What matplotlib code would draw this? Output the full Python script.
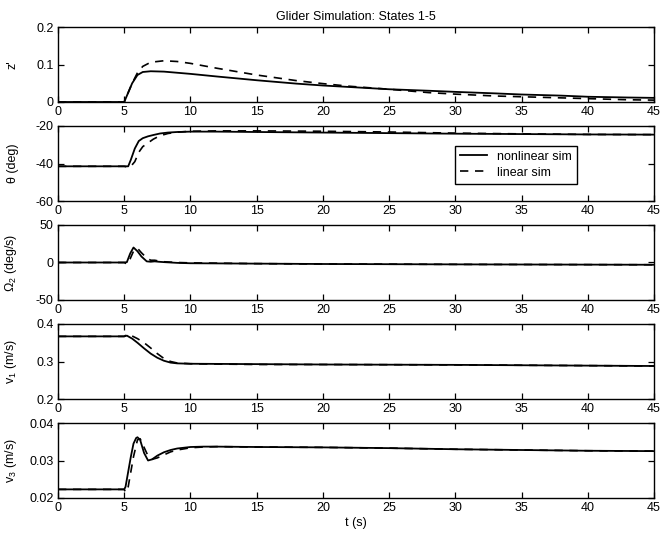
import matplotlib
matplotlib.use("Agg")
import matplotlib.pyplot as plt

plt.rcParams["font.family"] = ["Liberation Sans", "DejaVu Sans"]
plt.rcParams["mathtext.default"] = "regular"
plt.rcParams["font.size"] = 9

# state 1: z'
t1 = [0, 5, 5.3, 5.6, 6.0, 6.4, 7, 8, 9, 10, 12, 15, 18, 20, 22, 25, 28, 30, 33, 35, 38, 40, 43, 45]
z_nl = [0, 0, 0.025, 0.05, 0.072, 0.080, 0.082, 0.081, 0.078, 0.075, 0.068, 0.058, 0.049, 0.044,
        0.040, 0.034, 0.030, 0.027, 0.023, 0.020, 0.017, 0.014, 0.012, 0.011]
z_lin = [0, 0, 0.025, 0.05, 0.078, 0.095, 0.106, 0.110, 0.108, 0.103, 0.090, 0.072, 0.057, 0.049,
         0.042, 0.034, 0.025, 0.021, 0.016, 0.014, 0.011, 0.009, 0.006, 0.005]

# state 2: theta
t2 = [0, 5, 5.3, 5.5, 5.8, 6.1, 6.4, 6.8, 7.2, 7.7, 8.3, 9, 10, 12, 15, 20, 25, 30, 35, 40, 45]
th_nl = [-41.5, -41.5, -41.5, -38, -32, -28, -26.5, -25.5, -24.8, -24, -23.5, -23.2, -23, -23,
         -23.2, -23.5, -23.8, -24.1, -24.3, -24.5, -24.6]
th_lin = [-41.5, -41.5, -42, -41.5, -39, -34, -31, -29, -27, -25.2, -24, -23.3, -22.8, -22.6,
          -22.6, -22.8, -23.2, -23.8, -24.2, -24.5, -24.6]

# state 3: Omega_2
t3 = [0, 5, 5.2, 5.45, 5.7, 6.0, 6.3, 6.7, 7.0, 7.3, 7.6, 8, 9, 10, 15, 20, 30, 45]
om_nl = [0, 0, 0.5, 12, 20, 15, 8, 1.5, 1, 1.5, 1, 0.5, -0.5, -1, -1.5, -2, -2.5, -3]
om_lin = [0, 0, -2, 5, 15, 19, 13, 6, 3, 3, 2, 1, 0, -0.5, -1.5, -2, -2.5, -3]

# state 4: v1
t4 = [0, 5, 5.2, 5.6, 6, 6.5, 7, 7.5, 8, 8.5, 9, 10, 15, 20, 30, 40, 45]
v1_nl = [0.367, 0.367, 0.369, 0.361, 0.350, 0.335, 0.321, 0.310, 0.302, 0.297, 0.295, 0.294,
         0.293, 0.292, 0.291, 0.289, 0.288]
v1_lin = [0.367, 0.367, 0.372, 0.368, 0.361, 0.350, 0.336, 0.321, 0.308, 0.300, 0.296, 0.294,
          0.292, 0.292, 0.291, 0.289, 0.288]

# state 5: v3
t5 = [0, 5, 5.1, 5.3, 5.5, 5.7, 5.9, 6.0, 6.2, 6.5, 6.8, 7.1, 7.5, 8, 8.5, 9, 10, 11, 12, 15,
      20, 25, 30, 35, 40, 45]
v3_nl = [0.0223, 0.0223, 0.023, 0.027, 0.031, 0.0345, 0.036, 0.0362, 0.0355, 0.032, 0.030,
         0.0303, 0.0313, 0.0322, 0.0328, 0.0332, 0.0336, 0.0337, 0.0337, 0.0336, 0.0335,
         0.0333, 0.0330, 0.0328, 0.0326, 0.0325]
v3_lin = [0.0223, 0.0223, 0.0215, 0.023, 0.027, 0.031, 0.034, 0.0355, 0.0358, 0.0335, 0.0312,
          0.0303, 0.0307, 0.0315, 0.0323, 0.0328, 0.0334, 0.0336, 0.0337, 0.0336, 0.0335,
          0.0333, 0.0330, 0.0328, 0.0326, 0.0325]

panels = [
    (t1, z_nl, z_lin, "z'", [0, 0.2], [0, 0.1, 0.2], ["0", "0.1", "0.2"]),
    (t2, th_nl, th_lin, "θ (deg)", [-60, -20], [-60, -40, -20], ["-60", "-40", "-20"]),
    (t3, om_nl, om_lin, "$\\Omega_2$ (deg/s)", [-50, 50], [-50, 0, 50], ["-50", "0", "50"]),
    (t4, v1_nl, v1_lin, "$v_1$ (m/s)", [0.2, 0.4], [0.2, 0.3, 0.4], ["0.2", "0.3", "0.4"]),
    (t5, v3_nl, v3_lin, "$v_3$ (m/s)", [0.02, 0.04], [0.02, 0.03, 0.04], ["0.02", "0.03", "0.04"]),
]

W, H = 672, 536
fig = plt.figure(figsize=(W / 100, H / 100), dpi=100)

left, right = 58, 654
top0, height, pitch = 27, 75, 99

axes = []
for i, (t, nl, lin, lab, ylim, yt, ytl) in enumerate(panels):
    y0 = top0 + pitch * i
    ax = fig.add_axes([left / W, 1 - (y0 + height) / H, (right - left) / W, height / H])
    ax.plot(t, nl, "k-", lw=1.3, label="nonlinear sim")
    ax.plot(t, lin, "k--", lw=1.2, dashes=(5, 4), label="linear sim")
    ax.set_xlim(0, 45)
    ax.set_ylim(ylim)
    ax.set_xticks(range(0, 46, 5))
    ax.set_yticks(yt)
    ax.set_yticklabels(ytl)
    ax.tick_params(direction="in", top=True, right=True, length=4, width=0.9,
                   labelsize=9, pad=3)
    ax.set_ylabel(lab, fontsize=9)
    ax.yaxis.set_label_coords(-0.066, 0.5)
    for s in ax.spines.values():
        s.set_linewidth(1.0)
    axes.append(ax)

axes[0].set_title("Glider Simulation: States 1-5", fontsize=9, pad=5)
axes[1].legend(loc="upper left", bbox_to_anchor=(0.655, 0.82), fontsize=9, frameon=True,
               fancybox=False, edgecolor="k", framealpha=1, handlelength=2.2,
               borderpad=0.4, labelspacing=0.3)
axes[4].set_xlabel("t (s)", fontsize=9, labelpad=2)

fig.savefig("out.png", dpi=100)
